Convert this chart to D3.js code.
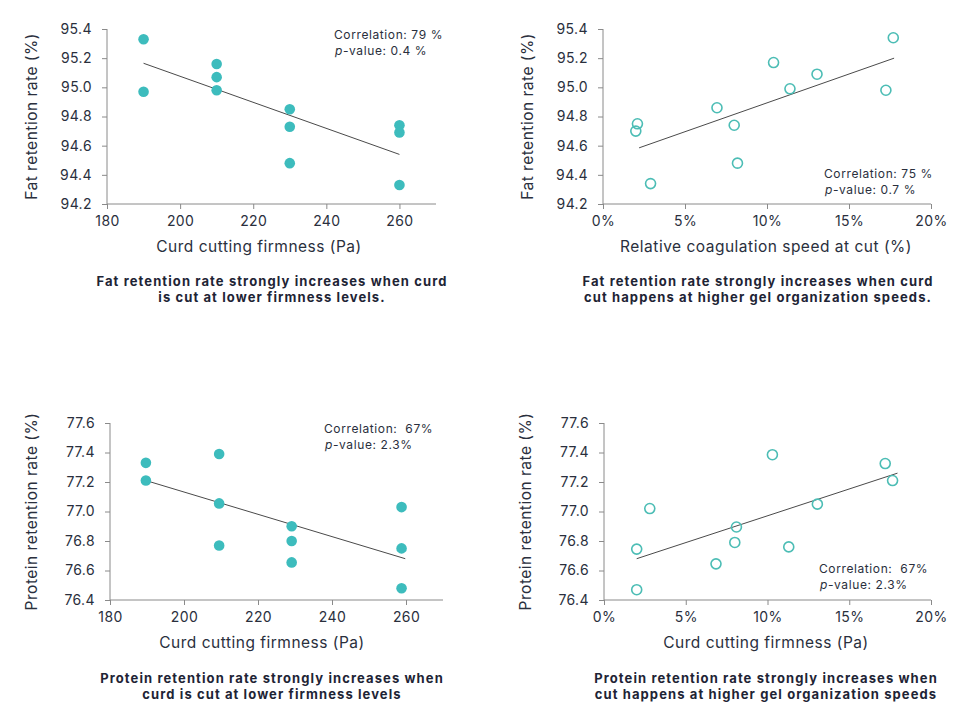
<!DOCTYPE html>
<html>
<head>
<meta charset="utf-8">
<script src="https://cdn.jsdelivr.net/npm/d3@7"></script>
<style>
  html, body { margin: 0; padding: 0; background: #ffffff; }
  svg { display: block; }
  text { font-family: Inter, "Open Sans", sans-serif; }
</style>
</head>
<body>
<svg id="chart" width="980" height="718"></svg>
<script>
// ---- Data ----
// Panel A: fat retention vs curd cutting firmness
const fatFirmX = [190, 190, 210, 210, 210, 230, 230, 230, 260, 260, 260];
const fatFirmY = [95.33, 94.97, 95.16, 95.07, 94.98, 94.85, 94.73, 94.48, 94.74, 94.69, 94.33];
const fatFirmTrend = [[190, 95.165], [260, 94.54]];

// Panel B: fat retention vs relative coagulation speed (%)
const fatSpeedX = [2.1, 2.0, 2.9, 6.95, 8.0, 8.2, 10.4, 11.4, 13.05, 17.25, 17.7];
const fatSpeedY = [94.75, 94.70, 94.34, 94.86, 94.74, 94.48, 95.17, 94.99, 95.09, 94.98, 95.34];
const fatSpeedTrend = [[2.2, 94.585], [17.75, 95.2]];

// Panel C: protein retention vs curd cutting firmness
const protFirmX = [189.7, 189.7, 209.5, 209.5, 209.5, 229.1, 229.1, 229.1, 258.8, 258.8, 258.8];
const protFirmY = [77.33, 77.21, 77.39, 77.055, 76.77, 76.90, 76.80, 76.655, 77.03, 76.75, 76.48];
const protFirmTrend = [[189.7, 77.21], [259.8, 76.68]];

// Panel D: protein retention vs coagulation speed (%)
const protSpeedX = [2.0, 2.0, 2.8, 6.85, 8.1, 8.0, 10.3, 11.3, 13.05, 17.2, 17.65];
const protSpeedY = [76.745, 76.47, 77.02, 76.645, 76.895, 76.79, 77.385, 76.76, 77.05, 77.325, 77.21];
const protSpeedTrend = [[2.0, 76.68], [17.95, 77.26]];

// Tick values
const firmTicks = [180, 200, 220, 240, 260];
const pctTicks = [0, 5, 10, 15, 20];
const fatTicks = [94.2, 94.4, 94.6, 94.8, 95.0, 95.2, 95.4];
const protTicks = [76.4, 76.6, 76.8, 77.0, 77.2, 77.4, 77.6];

// Texts
const yTitles = ["Fat retention rate (%)", "Fat retention rate (%)", "Protein retention rate (%)", "Protein retention rate (%)"];
const xTitles = ["Curd cutting firmness (Pa)", "Relative coagulation speed at cut (%)", "Curd cutting firmness (Pa)", "Curd cutting firmness (Pa)"];
const corrTexts = [["Correlation: 79 %", "-value: 0.4 %"], ["Correlation: 75 %", "-value: 0.7 %"], ["Correlation:  67%", "-value: 2.3%"], ["Correlation:  67%", "-value: 2.3%"]];
const captions = [
  ["Fat retention rate strongly increases when curd", "is cut at lower firmness levels."],
  ["Fat retention rate strongly increases when curd", "cut happens at higher gel organization speeds."],
  ["Protein retention rate strongly increases when", "curd is cut at lower firmness levels"],
  ["Protein retention rate strongly increases when", "cut happens at higher gel organization speeds"]
];

// ---- Style ----
const TEAL = "#3dbcbd";
const TEAL_OPEN = "#4cbdb5";
const TEXT = "#2a2f3d";
const AXIS = "#8a8a8a";

const svg = d3.select("#chart");

function panel(opts) {
  const g = svg.append("g");
  const x = d3.scaleLinear().domain(opts.xDomain).range([opts.left, opts.right]);
  const y = d3.scaleLinear().domain(opts.yDomain).range([opts.bottom, opts.top]);

  const xAxis = d3.axisBottom(x).tickValues(opts.xTicks).tickSize(5).tickPadding(7)
    .tickFormat(opts.xFmt);
  const yAxis = d3.axisLeft(y).tickValues(opts.yTicks).tickSize(5).tickPadding(10)
    .tickFormat(d3.format(".1f"));

  const gx = g.append("g").attr("transform", `translate(0,${opts.bottom})`).call(xAxis);
  const gy = g.append("g").attr("transform", `translate(${opts.left},0)`).call(yAxis);
  [gx, gy].forEach(a => {
    a.select(".domain").attr("stroke", AXIS).attr("stroke-width", 1);
    a.selectAll(".tick line").attr("stroke", AXIS);
    a.selectAll(".tick text").attr("fill", TEXT).style("font-size", "14px")
      .style("letter-spacing", "0.4px")
      .style("font-family", "Inter, sans-serif");
  });
  gy.select(".domain").attr("d", `M-0,${opts.bottom}V${opts.top}`);
  gx.select(".domain").attr("d", `M${opts.left},0H${opts.right}`);

  // trend line
  g.append("line")
    .attr("x1", x(opts.trend[0][0])).attr("y1", y(opts.trend[0][1]))
    .attr("x2", x(opts.trend[1][0])).attr("y2", y(opts.trend[1][1]))
    .attr("stroke", "#4a4a4a").attr("stroke-width", 1);

  // points
  const pts = opts.xs.map((v, i) => [v, opts.ys[i]]);
  g.selectAll("circle.pt").data(pts).enter().append("circle")
    .attr("class", "pt")
    .attr("cx", d => x(d[0])).attr("cy", d => y(d[1]))
    .attr("r", opts.open ? 5 : 5.3)
    .attr("fill", opts.open ? "none" : TEAL)
    .attr("stroke", opts.open ? TEAL_OPEN : "none")
    .attr("stroke-width", opts.open ? 1.6 : 0);

  // y title
  g.append("text")
    .attr("transform", `translate(${opts.yTitleX},${(opts.top + opts.bottom) / 2 + 0}) rotate(-90)`)
    .attr("text-anchor", "middle").attr("dominant-baseline", "middle")
    .attr("fill", TEXT).style("font-size", "15.5px").style("letter-spacing", "0.5px")
    .text(opts.yTitle);

  // x title
  g.append("text")
    .attr("x", opts.xTitleX).attr("y", opts.bottom + 44)
    .attr("text-anchor", "middle").attr("dominant-baseline", "middle")
    .attr("fill", TEXT).style("font-size", "15.5px").style("letter-spacing", "0.5px")
    .text(opts.xTitle);

  // correlation annotation
  const c = g.append("text").attr("fill", TEXT).style("font-size", "12px")
    .style("letter-spacing", "0.6px").style("white-space", "pre");
  c.append("tspan").attr("x", opts.corrX).attr("y", opts.corrY).text(opts.corr[0]);
  const l2 = c.append("tspan").attr("x", opts.corrX + 1).attr("y", opts.corrY + 16);
  l2.append("tspan").style("font-style", "italic").text("p");
  l2.append("tspan").text(opts.corr[1]);

  // caption
  const cap = g.append("text").attr("text-anchor", "middle").attr("fill", "#1e2435")
    .style("font-size", "13px").style("font-weight", "700").style("letter-spacing", "1.1px");
  opts.caption.forEach((line, i) => {
    cap.append("tspan").attr("x", opts.capX).attr("y", opts.capY + i * 16).text(line);
  });
}

const firmFmt = d3.format("d");
const pctFmt = d => d + "%";

panel({ xs: fatFirmX, ys: fatFirmY, trend: fatFirmTrend, open: false,
  xDomain: [180, 270], yDomain: [94.2, 95.4], xTicks: firmTicks, yTicks: fatTicks, xFmt: firmFmt,
  left: 107, right: 436, top: 29, bottom: 204,
  yTitle: yTitles[0], yTitleX: 33, xTitle: xTitles[0], xTitleX: 259,
  corr: corrTexts[0], corrX: 334, corrY: 39, caption: captions[0], capX: 272, capY: 286 });

panel({ xs: fatSpeedX, ys: fatSpeedY, trend: fatSpeedTrend, open: true,
  xDomain: [0, 20], yDomain: [94.2, 95.4], xTicks: pctTicks, yTicks: fatTicks, xFmt: pctFmt,
  left: 603, right: 931, top: 29, bottom: 204,
  yTitle: yTitles[1], yTitleX: 529, xTitle: xTitles[1], xTitleX: 766,
  corr: corrTexts[1], corrX: 824, corrY: 178, caption: captions[1], capX: 758, capY: 286 });

panel({ xs: protFirmX, ys: protFirmY, trend: protFirmTrend, open: false,
  xDomain: [180, 270], yDomain: [76.4, 77.6], xTicks: firmTicks, yTicks: protTicks, xFmt: firmFmt,
  left: 110, right: 443, top: 423, bottom: 600,
  yTitle: yTitles[2], yTitleX: 33, xTitle: xTitles[2], xTitleX: 262,
  corr: corrTexts[2], corrX: 324, corrY: 433, caption: captions[2], capX: 272, capY: 683 });

panel({ xs: protSpeedX, ys: protSpeedY, trend: protSpeedTrend, open: true,
  xDomain: [0, 20], yDomain: [76.4, 77.6], xTicks: pctTicks, yTicks: protTicks, xFmt: pctFmt,
  left: 604, right: 931, top: 423, bottom: 600,
  yTitle: yTitles[3], yTitleX: 527, xTitle: xTitles[3], xTitleX: 766,
  corr: corrTexts[3], corrX: 819, corrY: 573, caption: captions[3], capX: 766, capY: 683 });
</script>
</body>
</html>
